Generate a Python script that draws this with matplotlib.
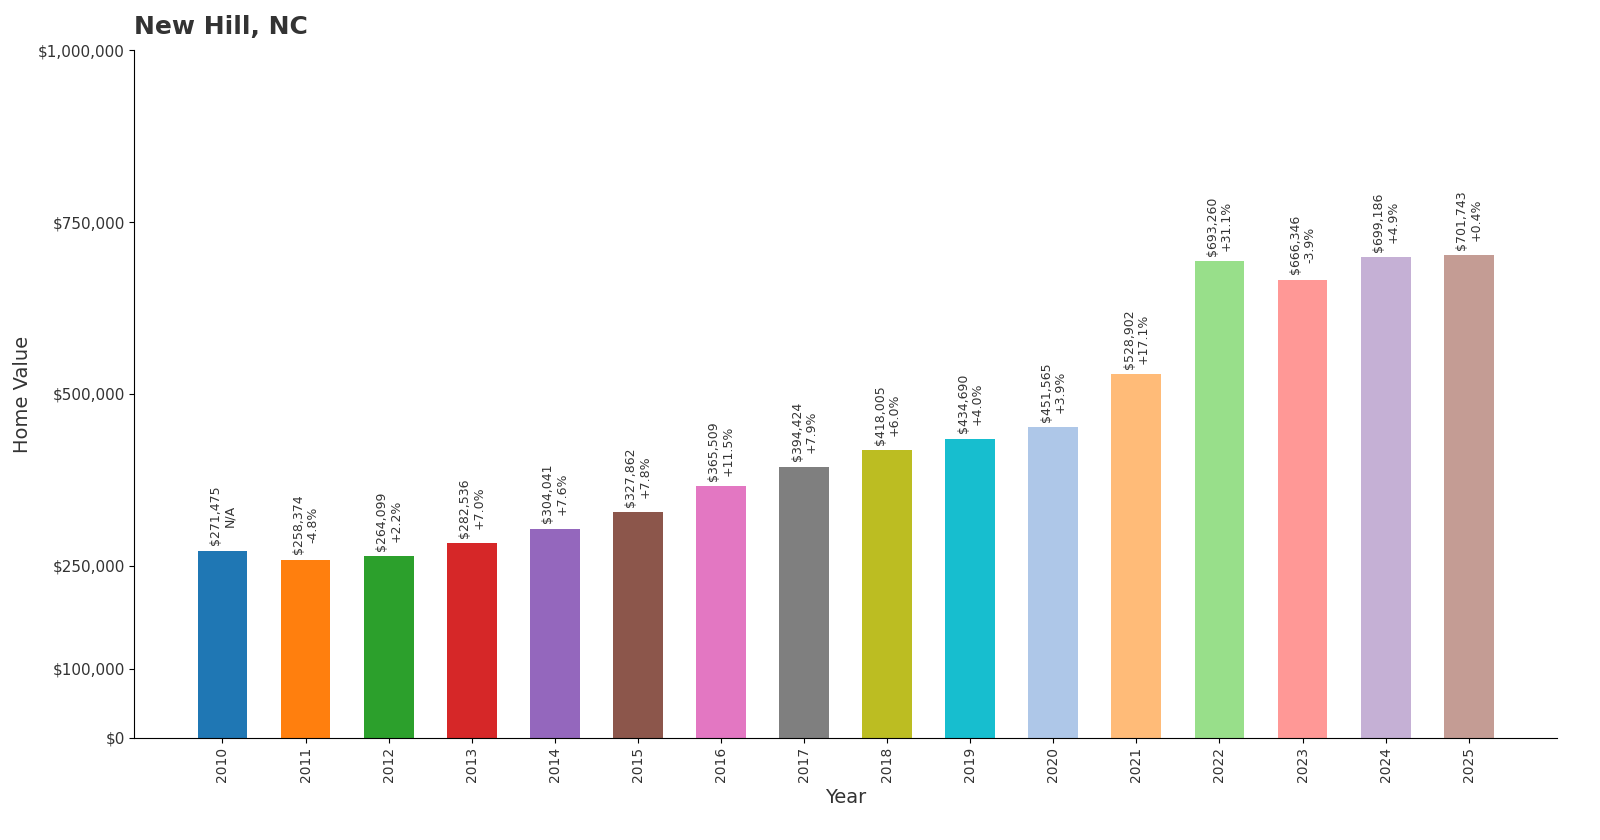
import matplotlib.pyplot as plt

years = ["2010", "2011", "2012", "2013", "2014", "2015", "2016", "2017",
         "2018", "2019", "2020", "2021", "2022", "2023", "2024", "2025"]
values = [271475, 258374, 264099, 282536, 304041, 327862, 365509, 394424,
          418005, 434690, 451565, 528902, 693260, 666346, 699186, 701743]
changes = ["N/A", "-4.8%", "+2.2%", "+7.0%", "+7.6%", "+7.8%", "+11.5%", "+7.9%",
           "+6.0%", "+4.0%", "+3.9%", "+17.1%", "+31.1%", "-3.9%", "+4.9%", "+0.4%"]
yticks = [0, 100000, 250000, 500000, 750000, 1000000]

colors = ["#1f77b4", "#ff7f0e", "#2ca02c", "#d62728", "#9467bd", "#8c564b",
          "#e377c2", "#7f7f7f", "#bcbd22", "#17becf", "#aec7e8", "#ffbb78",
          "#98df8a", "#ff9896", "#c5b0d5", "#c49c94"]

fig, ax = plt.subplots(figsize=(16, 8.4), dpi=100)
fig.subplots_adjust(left=0.084, right=0.973, top=0.94, bottom=0.122)

x = range(len(years))
ax.bar(x, values, width=0.6, color=colors)
for i, (v, c) in enumerate(zip(values, changes)):
    ax.text(i, v + 8000, f"${v:,}\n{c}", rotation=90, ha="center", va="bottom",
            fontsize=9, color="#333333", linespacing=1.1)

ax.set_xticks(list(x))
ax.set_xticklabels(years, rotation=90, fontsize=10, color="#333333")
ax.set_xlim(-1.06, 16.06)
ax.set_ylim(0, 1000000)
ax.set_yticks(yticks)
ax.set_yticklabels([f"${t:,}" for t in yticks], fontsize=11, color="#333333")
ax.spines["top"].set_visible(False)
ax.spines["right"].set_visible(False)
ax.set_xlabel("Year", fontsize=14, color="#333333")
ax.set_ylabel("Home Value", fontsize=14, color="#333333")
ax.set_title("New Hill, NC", loc="left", fontsize=18, fontweight="bold",
             color="#333333", pad=12)

plt.savefig("out.png")
